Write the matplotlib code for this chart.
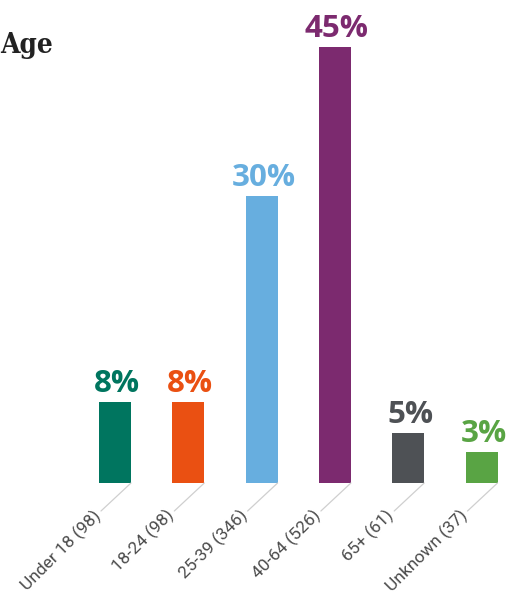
import matplotlib
matplotlib.use("Agg")
import matplotlib.pyplot as plt

categories = ["Under 18 (98)", "18-24 (98)", "25-39 (346)", "40-64 (526)", "65+ (61)", "Unknown (37)"]
values = [8.4, 8.4, 29.7, 45.1, 5.2, 3.2]
value_labels = ["8%", "8%", "30%", "45%", "5%", "3%"]
colors = ["#00755f", "#ea5012", "#67aedf", "#7c2a6f", "#4e5155", "#59a444"]

W, H = 507, 597
fig = plt.figure(figsize=(W / 100, H / 100), dpi=100)
base_px = 483
ax = fig.add_axes([0, (H - base_px) / H, 1, base_px / H])
spacing = 73.3
x0 = 115
ax.set_xlim(-x0 / spacing, (W - x0) / spacing)
ax.set_ylim(0, base_px / 9.67)
ax.axis("off")

bw = 32 / spacing
xs = list(range(len(values)))
ax.bar(xs, values, width=bw, color=colors, zorder=2)

for x, v, lab, c in zip(xs, values, value_labels, colors):
    ax.annotate(lab, xy=(x, v), xytext=(2, 10), textcoords="offset pixels",
                ha="center", va="baseline", fontsize=22.5, fontweight="bold",
                family=["Open Sans", "DejaVu Sans"], color=c)

for x, cat in zip(xs, categories):
    xr = x + bw / 2
    ax.annotate("", xy=(xr, 0), xycoords="data", xytext=(-30, -28),
                textcoords="offset pixels",
                arrowprops=dict(arrowstyle="-", shrinkA=0, shrinkB=0,
                                color="#cfcfcf", lw=0.9))
    ax.annotate(cat, xy=(xr, 0), xytext=(-33, -30), textcoords="offset pixels",
                rotation=45, rotation_mode="anchor", ha="right", va="center",
                fontsize=12.5, family=["Roboto", "DejaVu Sans"], color="#4a4a4a")

fig.text(0 / W, 1 - 53 / H, "Age", ha="left", va="baseline", fontsize=20,
         fontweight="bold", fontstretch="condensed",
         family=["DejaVu Serif"], color="#222222")

fig.savefig("out.png", dpi=100)
